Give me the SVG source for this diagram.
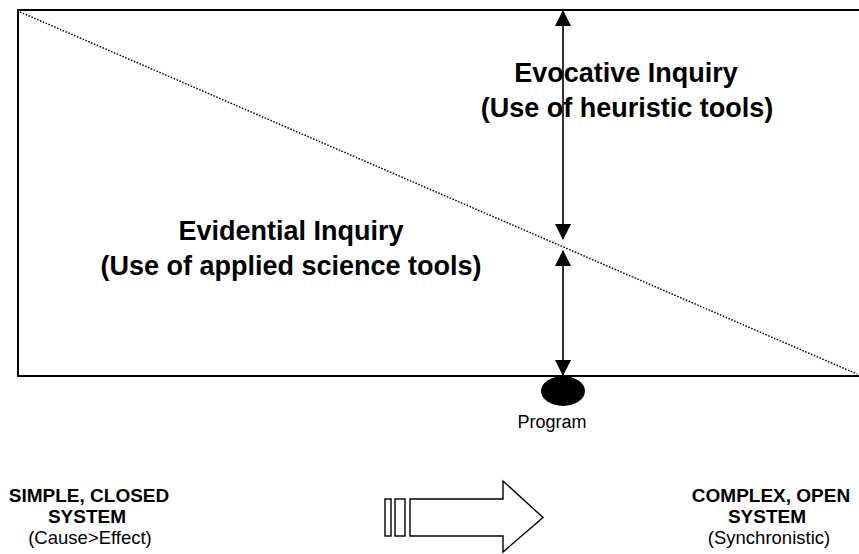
<svg xmlns="http://www.w3.org/2000/svg" width="859" height="554" viewBox="0 0 859 554">
<style>
.frame{stroke:#000;stroke-width:2;fill:none}
.dot{stroke:#000;stroke-width:1.5;stroke-dasharray:1.5 1.6;fill:none}
.shaft{stroke:#000;stroke-width:1.6;fill:none}
.big{font-family:"Liberation Sans",Arial,sans-serif;font-weight:bold;font-size:27px;fill:#000;text-anchor:middle}
.bold{font-family:"Liberation Sans",Arial,sans-serif;font-weight:bold;font-size:19px;fill:#000;text-anchor:middle}
.reg{font-family:"Liberation Sans",Arial,sans-serif;font-size:18.5px;fill:#000;text-anchor:middle}
.prog{font-family:"Liberation Sans",Arial,sans-serif;font-size:18px;fill:#000;text-anchor:middle}
.outline{stroke:#000;stroke-width:1.4;fill:#fff}
</style>
<defs>
<marker id="ah" viewBox="0 0 16 16" refX="15" refY="8" markerWidth="16" markerHeight="16" markerUnits="userSpaceOnUse" orient="auto-start-reverse">
<path d="M0,0 L16,8 L0,16 Z" fill="#000"/>
</marker>
</defs>
<g id="frame">
<path class="frame" d="M859,10 H18 V376 H859"/>
<line class="dot" x1="20" y1="12" x2="857" y2="374"/>
</g>
<g id="connectors">
<line class="shaft" x1="563" y1="11" x2="563" y2="239" marker-start="url(#ah)" marker-end="url(#ah)"/>
<line class="shaft" x1="563" y1="251" x2="563" y2="375" marker-start="url(#ah)" marker-end="url(#ah)"/>
</g>
<g id="evocative">
<text class="big" x="626" y="82">Evocative Inquiry</text>
<text class="big" x="627" y="117">(Use of heuristic tools)</text>
</g>
<g id="evidential">
<text class="big" x="291" y="240">Evidential Inquiry</text>
<text class="big" x="291" y="275">(Use of applied science tools)</text>
</g>
<g id="program">
<ellipse cx="563" cy="391" rx="22" ry="15" fill="#000"/>
<text class="prog" x="552" y="428">Program</text>
</g>
<g id="simple">
<text class="bold" x="89" y="502">SIMPLE, CLOSED</text>
<text class="bold" x="87" y="523">SYSTEM</text>
<text class="reg" x="90" y="544">(Cause&gt;Effect)</text>
</g>
<g id="complex">
<text class="bold" x="771" y="502">COMPLEX, OPEN</text>
<text class="bold" x="767" y="523">SYSTEM</text>
<text class="reg" x="769" y="544">(Synchronistic)</text>
</g>
<g id="block-arrow">
<rect class="outline" x="385" y="499" width="6" height="37"/>
<rect class="outline" x="395" y="499" width="10" height="37"/>
<path class="outline" d="M410,499 H503 V481 L543,517.5 L503,552 V536 H410 Z"/>
</g>
</svg>
